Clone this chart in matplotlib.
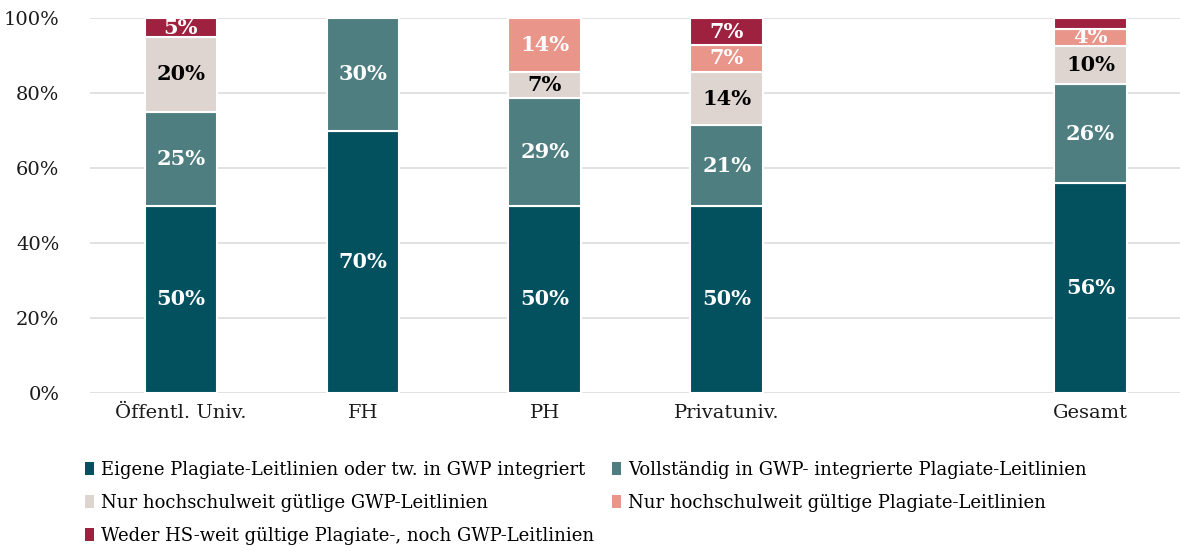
import numpy as np
import matplotlib.pyplot as plt
from matplotlib.patches import Patch

plt.rcParams["font.family"] = ["DejaVu Serif"]

categories = ["Öffentl. Univ.", "FH", "PH", "Privatuniv.", "", "Gesamt"]
series_names = [
    "Eigene Plagiate-Leitlinien oder tw. in GWP integriert",
    "Vollständig in GWP- integrierte Plagiate-Leitlinien",
    "Nur hochschulweit gütlige GWP-Leitlinien",
    "Nur hochschulweit gültige Plagiate-Leitlinien",
    "Weder HS-weit gültige Plagiate-, noch GWP-Leitlinien",
]
eigene = [50, 70, 50, 50, 0, 56.0]
vollst = [25, 30, 28.6, 21.4, 0, 26.4]
nur_gwp = [20, 0, 7.1, 14.3, 0, 10.3]
nur_plag = [0, 0, 14.3, 7.15, 0, 4.4]
weder = [5, 0, 0, 7.15, 0, 2.9]

colors = ["#03515f", "#4e7e80", "#ded4d0", "#e9958a", "#9e2140"]
label_colors = ["white", "white", "black", "white", "white"]

fig = plt.figure(figsize=(11.8, 5.52), dpi=100)
ax = fig.add_axes([0.0763, 0.288, 0.925, 0.679])

x = np.arange(len(categories))
bottom = np.zeros(len(categories))
for vals, col, lc in zip([eigene, vollst, nur_gwp, nur_plag, weder], colors, label_colors):
    vals = np.array(vals, dtype=float)
    keep = vals > 0
    ax.bar(x[keep], vals[keep], 0.4, bottom=bottom[keep], color=col,
           edgecolor="white", linewidth=1.5, zorder=3)
    for xi, v, b in zip(x, vals, bottom):
        if v >= 3.5:
            ax.text(xi, b + v / 2, f"{round(v)}%", ha="center", va="center",
                    color=lc, fontsize=15, fontweight="bold", zorder=4)
    bottom += vals

ax.set_xlim(-0.5, 5.5)
ax.set_ylim(0, 100)
ax.set_yticks(range(0, 101, 20))
ax.set_yticklabels([f"{t}%" for t in range(0, 101, 20)])
ax.set_xticks(x)
ax.set_xticklabels(categories)
ax.tick_params(axis="both", length=0, labelsize=14, colors="#1a1a1a")
ax.tick_params(axis="y", pad=22)
ax.tick_params(axis="x", pad=8)
ax.grid(axis="y", color="#dddddd", linewidth=1.2, zorder=0)
for s in ax.spines.values():
    s.set_visible(False)

# legend is filled column by column, so order it to read row by row
order = [0, 2, 4, 1, 3]
handles = [Patch(facecolor=colors[i]) for i in order]
labels = [series_names[i] for i in order]
fig.legend(handles, labels, loc="upper left", bbox_to_anchor=(0.066, 0.178),
           ncol=2, frameon=False, fontsize=13, handlelength=0.5, handleheight=0.7,
           handletextpad=0.4, columnspacing=0.95, labelspacing=0.82, borderaxespad=0)

fig.savefig("out.png", dpi=100)
